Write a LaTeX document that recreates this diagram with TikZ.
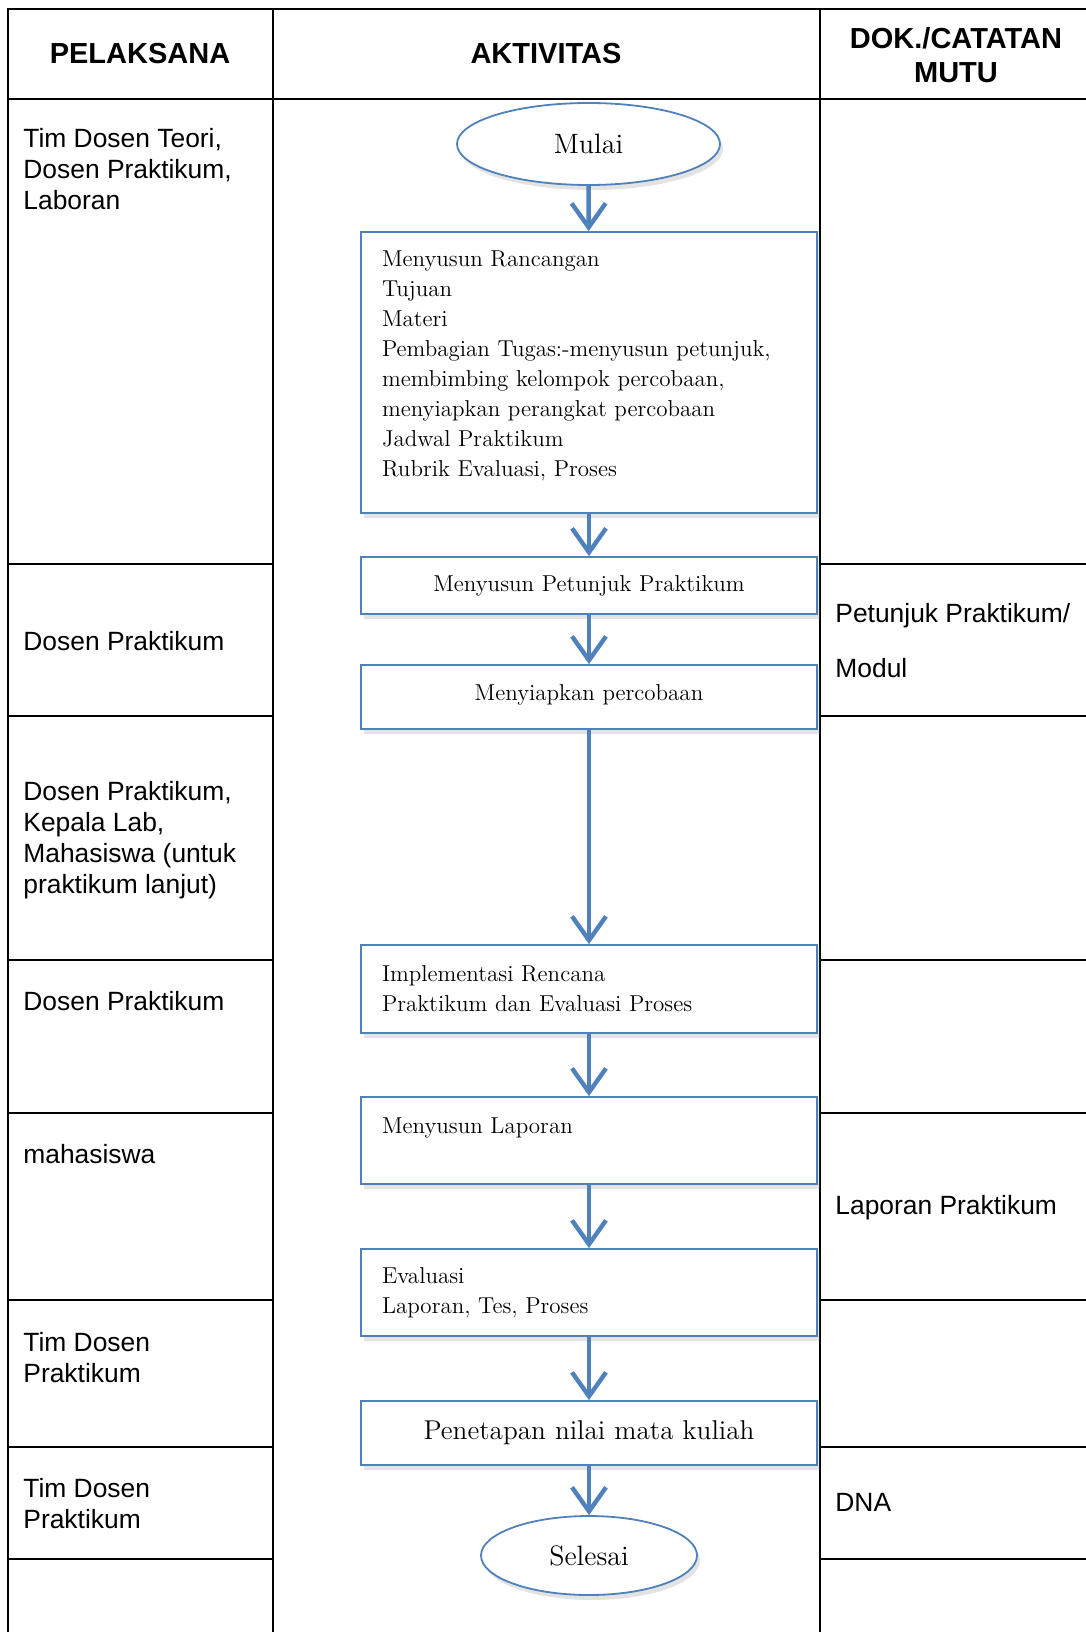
\documentclass[tikz,border=0pt]{standalone}
\usepackage{fontspec}
\newfontfamily\arial{Liberation Sans}
\usepackage{tikz}
\definecolor{Flw}{RGB}{79,129,189}
\usetikzlibrary{shadows,shapes.geometric,arrows.meta}

\tikzset{
  garis/.style={line width=1pt, line cap=rect},
  hdr/.style={font=\arial\bfseries\fontsize{14.5}{17}\selectfont, align=center, inner sep=0pt},
  pel/.style={font=\arial\fontsize{13.2}{15.5}\selectfont, align=left, anchor=west, inner sep=0pt},
  kotak/.style={draw=Flw, line width=0.9pt, fill=white, minimum width=228pt,
                text width=207pt, inner sep=0pt, font=\fontsize{11.5}{15}\selectfont,
                drop shadow={opacity=0.22, shadow xshift=1.5pt, shadow yshift=-2.5pt}},
  oval/.style={ellipse, draw=Flw, line width=0.9pt, fill=white, inner sep=0pt,
               font=\fontsize{14}{16}\selectfont,
               drop shadow={opacity=0.22, shadow xshift=1.5pt, shadow yshift=-2.5pt}},
  alir/.style={draw=Flw, line width=2.2pt, -{Straight Barb[length=12pt,width=17pt]}},
}

\begin{document}
\begin{tikzpicture}[x=0.5pt, y=-0.5pt]
    \useasboundingbox (0,0) rectangle (1086,1632);
    % tabel
    \draw[garis] (8,9) -- (1086,9);
    \draw[garis] (8,99) -- (1086,99);
    \foreach \xx in {8,273,820}
        \draw[garis] (\xx,9) -- (\xx,1632);
    \foreach \yy in {564,716,960,1113,1300,1447,1559} {
        \draw[garis] (8,\yy) -- (273,\yy);
        \draw[garis] (820,\yy) -- (1086,\yy);
    }
    % judul kolom
    \node[hdr] (hpel) at (140,54) {PELAKSANA};
    \node[hdr] (hakt) at (546,54) {AKTIVITAS};
    \node[hdr] (hdok) at (956,55) {DOK./CATATAN\\MUTU};
    % pelaksana
    \node[pel] (p1) at (23,169) {Tim Dosen Teori,\\Dosen Praktikum,\\Laboran};
    \node[pel] (p2) at (23,641) {Dosen Praktikum};
    \node[pel] (p3) at (23,840) {Dosen Praktikum,\\Kepala Lab,\\Mahasiswa (untuk\\praktikum lanjut)};
    \node[pel] (p4) at (23,1001) {Dosen Praktikum};
    \node[pel] (p5) at (23,1154) {mahasiswa};
    \node[pel] (p6) at (23,1357.5) {Tim Dosen\\Praktikum};
    \node[pel] (p7) at (23,1504) {Tim Dosen\\Praktikum};
    % dokumen
    \node[pel] (d1) at (835,640.5) {Petunjuk Praktikum/\\[12pt]Modul};
    \node[pel] (d2) at (835,1208) {Laporan Praktikum};
    \node[pel] (d3) at (835,1502) {DNA};
    % aktivitas
    \node[oval, minimum width=131.5pt, minimum height=41pt] (mulai) at (588.5,144) {Mulai};
    \node[kotak, align=left, minimum height=140.5pt] (rancang) at (589,372.5)
        {Menyusun Rancangan\\Tujuan\\Materi\\Pembagian Tugas:-menyusun petunjuk,\\membimbing kelompok percobaan,\\menyiapkan perangkat percobaan\\Jadwal Praktikum\\Rubrik Evaluasi, Proses\\[-6.5pt]\mbox{}};
    \node[kotak, align=center, minimum height=28.5pt] (petunjuk) at (589,585.5) {Menyusun Petunjuk Praktikum};
    \node[kotak, align=center, minimum height=32pt] (siapkan) at (589,697) {Menyiapkan percobaan\\[-11pt]\mbox{}};
    \node[kotak, align=left, minimum height=44pt] (implement) at (589,989)
        {Implementasi Rencana\\Praktikum dan Evaluasi Proses};
    \node[kotak, align=left, minimum height=43.5pt] (laporan) at (589,1140.5) {Menyusun Laporan\\\mbox{}};
    \node[kotak, align=left, minimum height=43.5pt] (evaluasi) at (589,1292.5) {Evaluasi\\Laporan, Tes, Proses};
    \node[kotak, align=center, minimum height=32pt, font=\fontsize{13.6}{16}\selectfont] (nilai) at (589,1433)
        {Penetapan nilai mata kuliah};
    \node[oval, minimum width=108pt, minimum height=39.5pt] (selesai) at (589,1555.5) {Selesai};
    % panah
    \draw[alir] (mulai) -- (rancang);
    \draw[alir] (rancang) -- (petunjuk);
    \draw[alir] (petunjuk) -- (siapkan);
    \draw[alir] (siapkan) -- (implement);
    \draw[alir] (implement) -- (laporan);
    \draw[alir] (laporan) -- (evaluasi);
    \draw[alir] (evaluasi) -- (nilai);
    \draw[alir] (nilai) -- (selesai);
\end{tikzpicture}
\end{document}
